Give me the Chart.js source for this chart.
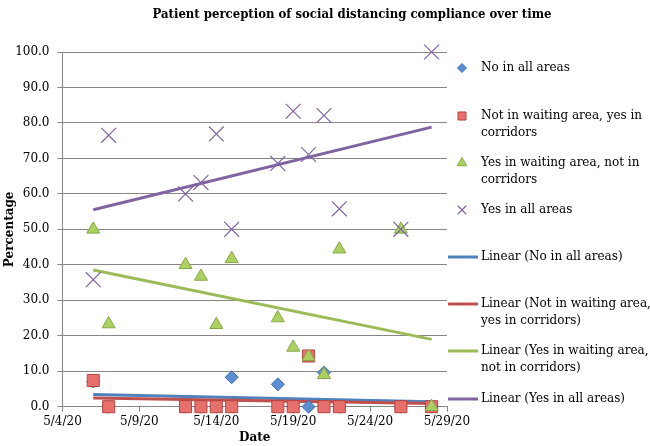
<!DOCTYPE html>
<html>
<head>
<meta charset="utf-8">
<script src="https://cdn.jsdelivr.net/npm/chart.js@4.4.0/dist/chart.umd.min.js"></script>
<style>
html, body { margin: 0; padding: 0; background: #fff; }
#wrap { width: 650px; height: 446px; position: relative; }
</style>
</head>
<body>
<div id="wrap"><canvas id="myChart"></canvas></div>
<script>
// Données
const titre = "Patient perception of social distancing compliance over time";
const dates = ["5/6/20", "5/7/20", "5/12/20", "5/13/20", "5/14/20", "5/15/20", "5/18/20", "5/19/20", "5/20/20", "5/21/20", "5/22/20", "5/26/20", "5/28/20"];
const noAll = [7.1, 0, 0, 0, 0, 8.3, 6.3, 0, 0, 9.6, 0, 0, 0];
const notWaiting = [7.4, 0, 0, 0, 0, 0, 0, 0, 14.3, 0, 0, 0, 0];
const yesWaiting = [50, 23.3, 40, 36.7, 23.1, 41.7, 25, 16.7, 14.1, 9, 44.4, 50, 0];
const yesAll = [35.8, 76.5, 60, 63.2, 76.9, 50, 68.6, 83.3, 71.1, 82.1, 55.8, 50, 100];
const xTicks = ["5/4/20", "5/9/20", "5/14/20", "5/19/20", "5/24/20", "5/29/20"];
const seriesNames = ["No in all areas", "Not in waiting area, yes in corridors", "Yes in waiting area, not in corridors", "Yes in all areas"];

const FONT = "'DejaVu Serif', serif";
const debut = Date.UTC(2020, 4, 4);

// nombre de jours depuis le 5/4/20
function jour(d) {
    const p = d.split('/').map(Number);
    return (Date.UTC(2000 + p[2], p[0] - 1, p[1]) - debut) / 86400000;
}
const xs = dates.map(jour);

function points(values) {
    return values.map((v, i) => ({ x: xs[i], y: v }));
}

// droite de régression (moindres carrés)
function tendance(values) {
    const n = xs.length;
    const mx = xs.reduce((a, b) => a + b, 0) / n;
    const my = values.reduce((a, b) => a + b, 0) / n;
    let sxy = 0, sxx = 0;
    xs.forEach((x, i) => { sxy += (x - mx) * (values[i] - my); sxx += (x - mx) * (x - mx); });
    const b = sxy / sxx;
    const x0 = Math.min(...xs), x1 = Math.max(...xs);
    return [{ x: x0, y: my + b * (x0 - mx) }, { x: x1, y: my + b * (x1 - mx) }];
}

const couleurs = ["#4F81BD", "#C0504D", "#9BBB59", "#8064A2"];

const styles = [
    { pointStyle: 'rectRot', pointRadius: 6.5, backgroundColor: "#5B8FD2", borderColor: "#3F6FAE", borderWidth: 1 },
    { pointStyle: 'rect', pointRadius: 8.5, backgroundColor: "#E8706C", borderColor: "#B64440", borderWidth: 1 },
    { pointStyle: 'triangle', pointRadius: 7.5, backgroundColor: "#ABD163", borderColor: "#87A748", borderWidth: 1 },
    { pointStyle: 'crossRot', pointRadius: 10.5, backgroundColor: "#8064A2", borderColor: "#8064A2", borderWidth: 1.2 }
];

const valeurs = [noAll, notWaiting, yesWaiting, yesAll];
const datasets = [];

// nuages de points (violet au-dessus)
valeurs.forEach((vals, i) => {
    datasets.push({
        type: 'scatter',
        label: seriesNames[i],
        data: points(vals),
        pointStyle: styles[i].pointStyle,
        pointRadius: styles[i].pointRadius,
        pointBackgroundColor: styles[i].backgroundColor,
        pointBorderColor: styles[i].borderColor,
        pointBorderWidth: styles[i].borderWidth,
        showLine: false,
        clip: false,
        order: 4 - i
    });
});

// droites linéaires
valeurs.forEach((vals, i) => {
    datasets.push({
        type: 'line',
        label: "Linear (" + seriesNames[i] + ")",
        data: tendance(vals),
        borderColor: couleurs[i],
        borderWidth: 3,
        pointRadius: 0,
        fill: false,
        clip: false,
        order: 12 - i
    });
});

const titrePlugin = {
    id: 'titrePlugin',
    afterDraw(chart) {
        const ctx = chart.ctx;
        ctx.save();
        ctx.fillStyle = "#000";
        ctx.font = "bold 13px 'DejaVu Serif Condensed', 'DejaVu Serif', serif";
        ctx.textAlign = 'center';
        ctx.textBaseline = 'middle';
        ctx.fillText(titre, 352, 15);
        ctx.restore();
    }
};

// légende dessinée à la main (les libellés passent sur deux lignes)
const legendeItems = [
    { type: 'point', i: 0, y: 68, lines: ["No in all areas"] },
    { type: 'point', i: 1, y: 116, lines: ["Not in waiting area, yes in", "corridors"] },
    { type: 'point', i: 2, y: 163, lines: ["Yes in waiting area, not in", "corridors"] },
    { type: 'point', i: 3, y: 210, lines: ["Yes in all areas"] },
    { type: 'line', i: 0, y: 257, lines: ["Linear (No in all areas)"] },
    { type: 'line', i: 1, y: 304, lines: ["Linear (Not in waiting area,", "yes in corridors)"] },
    { type: 'line', i: 2, y: 351, lines: ["Linear (Yes in waiting area,", "not in corridors)"] },
    { type: 'line', i: 3, y: 399, lines: ["Linear (Yes in all areas)"] }
];
const tailleLegende = [4.5, 5.7, 5.5, 6];

const legendePlugin = {
    id: 'legendePlugin',
    afterDraw(chart) {
        const ctx = chart.ctx;
        ctx.save();
        legendeItems.forEach(item => {
            const st = styles[item.i];
            if (item.type === 'point') {
                ctx.fillStyle = st.backgroundColor;
                ctx.strokeStyle = st.borderColor;
                ctx.lineWidth = st.borderWidth;
                Chart.helpers.drawPoint(ctx, {
                    pointStyle: st.pointStyle,
                    radius: tailleLegende[item.i],
                    rotation: 0,
                    borderWidth: st.borderWidth
                }, 462, item.y);
            } else {
                ctx.strokeStyle = couleurs[item.i];
                ctx.lineWidth = 3;
                ctx.beginPath();
                ctx.moveTo(448, item.y);
                ctx.lineTo(478, item.y);
                ctx.stroke();
            }
            ctx.fillStyle = "#000";
            ctx.font = "12px " + FONT;
            ctx.textAlign = 'left';
            ctx.textBaseline = 'middle';
            item.lines.forEach((l, k) => ctx.fillText(l, 481, item.y + k * 16.5));
        });
        ctx.restore();
    }
};

const ctx = document.getElementById('myChart').getContext('2d');
const myChart = new Chart(ctx, {
    data: { datasets: datasets },
    options: {
        responsive: true,
        maintainAspectRatio: false,
        animation: false,
        layout: { padding: { top: 52, right: 203, left: 0, bottom: 0 } },
        plugins: {
            legend: { display: false },
            tooltip: { enabled: false },
            title: { display: false }
        },
        scales: {
            x: {
                type: 'linear',
                min: 0,
                max: 25,
                afterFit: axis => { axis.height = 39.3; },
                ticks: {
                    stepSize: 5,
                    padding: 3,
                    color: "#000",
                    font: { family: FONT, size: 12 },
                    maxRotation: 0,
                    callback: v => xTicks[v / 5]
                },
                grid: { drawOnChartArea: false, drawTicks: true, tickLength: 5, color: "#868686" },
                border: { color: "#868686", width: 1 },
                title: {
                    display: true,
                    text: "Date",
                    color: "#000",
                    font: { family: FONT, size: 12, weight: 'bold' },
                    padding: { top: 0, bottom: 1 }
                }
            },
            y: {
                min: 0,
                max: 100,
                afterFit: axis => { axis.width = 62.5; },
                ticks: {
                    stepSize: 10,
                    padding: 8,
                    color: "#000",
                    font: { family: FONT, size: 12 },
                    callback: v => v.toFixed(1)
                },
                grid: { color: "#868686", tickLength: 5 },
                border: { color: "#868686", width: 1 },
                title: {
                    display: true,
                    text: "Percentage",
                    color: "#000",
                    font: { family: FONT, size: 12, weight: 'bold' },
                    padding: { top: 3, bottom: 0 }
                }
            }
        }
    },
    plugins: [titrePlugin, legendePlugin]
});
</script>
</body>
</html>
